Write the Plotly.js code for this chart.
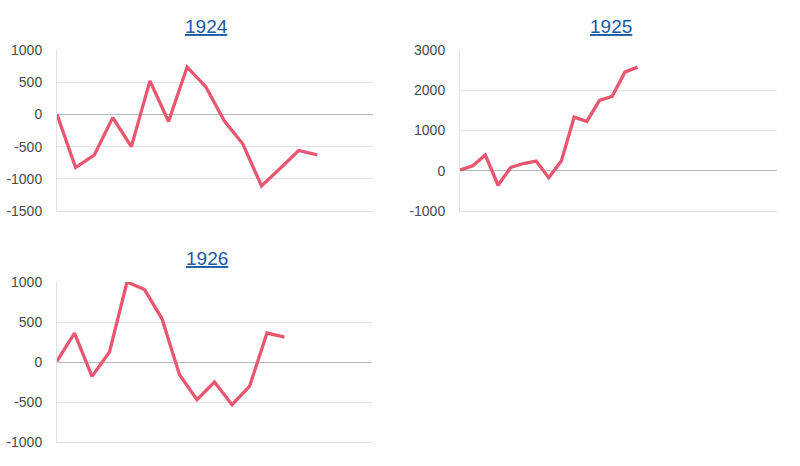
<!DOCTYPE html>
<html><head><meta charset="utf-8">
<script src="https://cdn.plot.ly/plotly-3.0.1.min.js"></script>
<style>html,body{margin:0;padding:0;background:#fff;}#chart{width:800px;height:466px;}</style>
</head><body><div id="chart"></div>
<script>
const titles = ["1924", "1925", "1926"];
const values1924 = [0, -825, -633, -50, -500, 520, -110, 735, 430, -100, -460, -1110, -840, -560, -630];
const values1925 = [17, 125, 390, -360, 80, 180, 240, -175, 250, 1330, 1225, 1750, 1850, 2450, 2575];
const values1926 = [10, 360, -180, 125, 1000, 905, 540, -160, -470, -250, -533, -305, 362, 312];
const yTicks1924 = [-1500, -1000, -500, 0, 500, 1000];
const yTicks1925 = [-1000, 0, 1000, 2000, 3000];
const yTicks1926 = [-1000, -500, 0, 500, 1000];

const lineColor = '#e9566f';
const idx = arr => arr.map((_, i) => i);

const traces = [
  {x: idx(values1924), y: values1924, xaxis: 'x', yaxis: 'y'},
  {x: idx(values1925), y: values1925, xaxis: 'x2', yaxis: 'y2'},
  {x: idx(values1926), y: values1926, xaxis: 'x3', yaxis: 'y3'}
].map(t => Object.assign(t, {type: 'scatter', mode: 'lines', line: {color: lineColor, width: 3.3}, hoverinfo: 'skip'}));

function yax(ticks, domain, anchor) {
  return {
    domain: domain, anchor: anchor,
    range: [ticks[0], ticks[ticks.length - 1]],
    tickvals: ticks, ticktext: ticks.map(String),
    showgrid: true, gridcolor: '#e6e6e6', gridwidth: 1,
    zeroline: true, zerolinecolor: '#b8b8b8', zerolinewidth: 1,
    showline: true, linecolor: '#e3e3e3', linewidth: 1,
    ticks: '', ticklen: 0, ticklabelstandoff: 11,
    tickfont: {family: 'Liberation Sans, Arial, sans-serif', size: 14, color: '#4a4a4a'},
    fixedrange: true
  };
}
function xax(range, domain, anchor) {
  return {
    domain: domain, anchor: anchor, range: range,
    showgrid: false, zeroline: false, showticklabels: false, ticks: '',
    showline: true, linecolor: '#e0e0e0', linewidth: 1, mirror: false,
    fixedrange: true
  };
}

const d1x = [57/800, 373/800], d2x = [460/800, 777/800], d3x = [57/800, 372/800];
const d1y = [1 - 211/466, 1 - 50/466], d3y = [1 - 442/466, 1 - 282/466];

const layout = {
  width: 800, height: 466,
  margin: {l: 0, r: 0, t: 0, b: 0},
  paper_bgcolor: '#fff', plot_bgcolor: '#fff',
  showlegend: false,
  xaxis: xax([0, 17], d1x, 'y'),
  yaxis: yax(yTicks1924, d1y, 'x'),
  xaxis2: xax([0, 25], d2x, 'y2'),
  yaxis2: yax(yTicks1925, d1y, 'x2'),
  xaxis3: xax([0, 18], d3x, 'y3'),
  yaxis3: yax(yTicks1926, d3y, 'x3'),
  annotations: [
    {text: '<u>' + titles[0] + '</u>', x: 207/800, y: 1 - 27/466},
    {text: '<u>' + titles[1] + '</u>', x: 611/800, y: 1 - 27/466},
    {text: '<u>' + titles[2] + '</u>', x: 207/800, y: 1 - 258/466}
  ].map(a => Object.assign(a, {xref: 'paper', yref: 'paper', showarrow: false, xanchor: 'center', yanchor: 'middle',
    font: {family: 'Liberation Sans, Arial, sans-serif', size: 19, color: '#1b58a6'}}))
};

Plotly.newPlot('chart', traces, layout, {displayModeBar: false, staticPlot: true});
</script>
</body></html>
